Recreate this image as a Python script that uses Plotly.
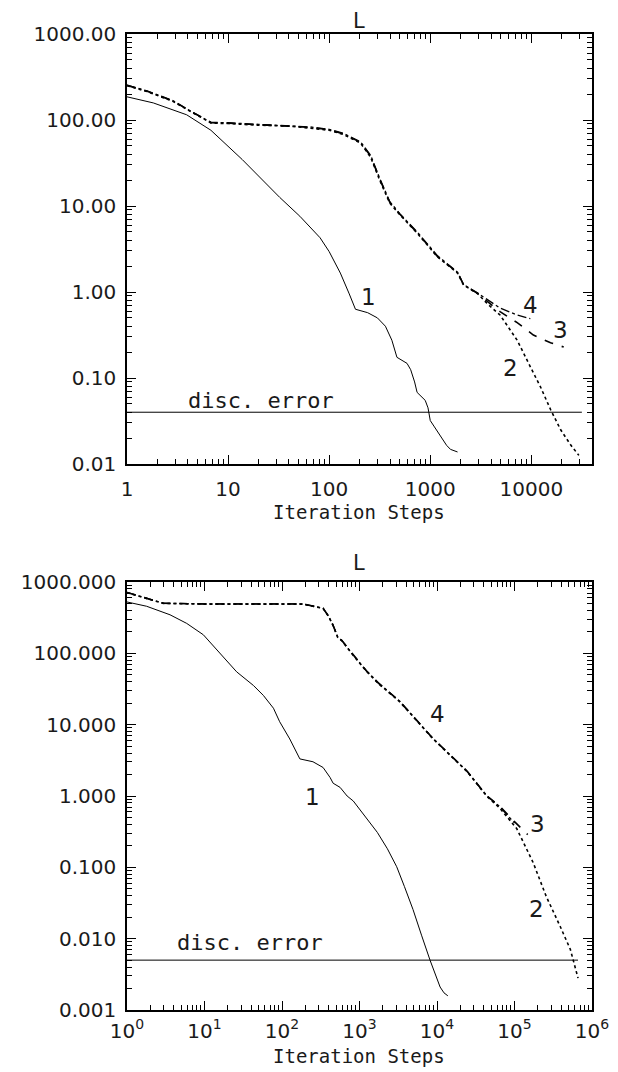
import math
import plotly.graph_objects as go

# ---------------- data: top panel ----------------
top_c1_x = [1, 1.82, 3.89, 6.76, 13.8, 32.4, 51.3, 64.6, 81.3, 100, 129, 158, 182, 240, 300, 360, 417, 468,
            530, 589, 640, 700, 741, 820, 891, 950, 1000, 1100, 1202, 1318, 1450, 1585, 1862]
top_c1_y = [186, 158, 115, 76, 34.7, 12.6, 7.6, 5.75, 4.27, 2.95, 1.66, 0.95, 0.63, 0.575, 0.50, 0.40, 0.275, 0.174,
            0.160, 0.148, 0.125, 0.090, 0.068, 0.060, 0.055, 0.045, 0.032, 0.027, 0.023, 0.0195, 0.0165, 0.0148, 0.0138]

top_c2_x = [1, 1.58, 2.8, 4.5, 6.8, 10, 20, 41, 65, 100, 138, 204, 257, 316, 398, 427, 501, 741, 1175, 1862, 2138, 2951,
            3631, 4900, 7244, 9772, 12303, 15488, 19498, 24547, 29512]
top_c2_y = [251, 214, 166, 120, 92, 91, 87, 85, 81, 76, 68, 54, 37, 20, 10.8, 9.8, 7.9, 4.85, 2.57, 1.66, 1.20, 0.955,
            0.74, 0.54, 0.275, 0.135, 0.079, 0.043, 0.025, 0.0166, 0.0126]

top_c3_x = [1, 1.58, 2.8, 4.5, 6.8, 10, 20, 41, 65, 100, 138, 204, 257, 316, 398, 427, 501, 741, 1175, 1862, 2138, 2951,
            4900, 7244, 10471, 15488, 20893]
top_c3_y = [253, 216, 168, 121, 93, 92, 88, 85, 82, 77, 69, 55, 38, 20.5, 11.0, 10.0, 8.0, 4.9, 2.6, 1.68, 1.21, 0.96,
            0.59, 0.44, 0.316, 0.257, 0.229]

top_c4_x = [1, 1.58, 2.8, 4.5, 6.8, 10, 20, 41, 65, 100, 138, 204, 257, 316, 398, 427, 501, 741, 1175, 1862, 2138, 2951,
            4900, 7244, 9772]
top_c4_y = [255, 218, 170, 122, 94, 93, 89, 86, 83, 78, 70, 56, 39, 21, 11.2, 10.2, 8.1, 5.0, 2.65, 1.70, 1.22, 0.97,
            0.65, 0.54, 0.49]

top_err_x = [1, 31600]
top_err_y = [0.04, 0.04]

top_xticks = [1, 10, 100, 1000, 10000]
top_xtext = ["1", "10", "100", "1000", "10000"]
top_yticks = [0.01, 0.1, 1, 10, 100, 1000]
top_ytext = ["0.01", "0.10", "1.00", "10.00", "100.00", "1000.00"]

# ---------------- data: bottom panel ----------------
bot_c1_x = [1, 1.79, 3.59, 5.89, 9.66, 15.8, 26.0, 42.7, 57.5, 77.6, 93.3, 126, 170, 251, 339, 417, 457, 562, 692,
            832, 1000, 1288, 1698, 2291, 3020, 3802, 4898, 6310, 8128, 10965, 12303, 13804]
bot_c1_y = [525, 457, 347, 263, 182, 100, 55, 35.5, 25.7, 17.0, 11.0, 6.3, 3.31, 3.02, 2.51, 1.82, 1.51, 1.32, 1.0,
            0.85, 0.66, 0.457, 0.309, 0.182, 0.102, 0.0537, 0.0257, 0.0112, 0.0050, 0.0021, 0.00174, 0.00158]

bot_c2_x = [1, 2.95, 10, 31.6, 100, 186, 339, 398, 457, 525, 589, 832, 1230, 1738, 3311, 8913, 24547, 43652,
            64565, 107152, 173780, 257040, 389045, 524807, 660693]
bot_c2_y = [708, 501, 490, 490, 490, 490, 427, 331, 245, 166, 151, 93, 56, 38, 20.9, 6.3, 2.19, 1.0,
            0.676, 0.347, 0.117, 0.039, 0.0148, 0.0071, 0.0028]

bot_c3_x = [1, 2.95, 10, 31.6, 100, 186, 339, 398, 457, 525, 589, 832, 1230, 1738, 3311, 8913, 24547, 43652,
            64565, 100000, 147911]
bot_c3_y = [712, 503, 492, 492, 492, 492, 428, 332, 246, 167, 152, 94, 56.5, 38.5, 21.1, 6.35, 2.21, 1.01,
            0.72, 0.437, 0.288]

bot_c4_x = [1, 2.95, 10, 31.6, 100, 186, 339, 398, 457, 525, 589, 832, 1230, 1738, 3311, 8913, 24547, 43652,
            64565, 100000]
bot_c4_y = [716, 505, 494, 494, 494, 494, 429, 333, 247, 168, 153, 94.5, 57, 39, 21.3, 6.4, 2.23, 1.02,
            0.71, 0.417]

bot_err_x = [1, 660000]
bot_err_y = [0.005, 0.005]

bot_xticks = [1, 10, 100, 1000, 10000, 100000, 1000000]
bot_xtext = ["10<sup>0</sup>", "10<sup>1</sup>", "10<sup>2</sup>", "10<sup>3</sup>",
             "10<sup>4</sup>", "10<sup>5</sup>", "10<sup>6</sup>"]
bot_yticks = [0.001, 0.01, 0.1, 1, 10, 100, 1000]
bot_ytext = ["0.001", "0.010", "0.100", "1.000", "10.000", "100.000", "1000.000"]

# curve labels (x, y, text)
top_lab_x = [245, 9800, 19500, 6200, 21]
top_lab_y = [0.87, 0.71, 0.36, 0.13, 0.055]
top_lab_t = ["1", "4", "3", "2", "disc. error"]
bot_lab_x = [251, 10200, 200000, 195000, 39]
bot_lab_y = [0.98, 14, 0.41, 0.026, 0.0087]
bot_lab_t = ["1", "4", "3", "2", "disc. error"]

# ---------------- figure ----------------
FONT = "DejaVu Sans"
WIDEFONT = "DejaVu Sans Mono"
INK = "#1a1a1a"

OFF = 8             # page body margin of the html page
W, H = 618 - OFF, 1072 - OFF


def fx(px):
    return (px - OFF) / W


def fy(py):
    return 1 - (py - OFF) / H


def minor_vals(lo, hi):
    vals = []
    for e in range(lo, hi):
        for m in range(2, 10):
            vals.append(m * 10.0 ** e)
    return vals


fig = go.Figure()

styles = [dict(dash="solid", width=1), dict(dash="dot", width=1.6),
          dict(dash="dash", width=1.6), dict(dash="dashdot", width=1.3)]

for xs, ys, st in [(top_c1_x, top_c1_y, styles[0]), (top_c2_x, top_c2_y, styles[1]),
                   (top_c3_x, top_c3_y, styles[2]), (top_c4_x, top_c4_y, styles[3]),
                   (top_err_x, top_err_y, styles[0])]:
    fig.add_trace(go.Scatter(x=xs, y=ys, mode="lines", xaxis="x", yaxis="y",
                             line=dict(color="black", **st), showlegend=False))

for xs, ys, st in [(bot_c1_x, bot_c1_y, styles[0]), (bot_c2_x, bot_c2_y, styles[1]),
                   (bot_c3_x, bot_c3_y, styles[2]), (bot_c4_x, bot_c4_y, styles[3]),
                   (bot_err_x, bot_err_y, styles[0])]:
    fig.add_trace(go.Scatter(x=xs, y=ys, mode="lines", xaxis="x2", yaxis="y2",
                             line=dict(color="black", **st), showlegend=False))

xdom = [fx(127), fx(592)]
top_ydom = [fy(464), fy(34)]
bot_ydom = [fy(1010), fy(582)]

axis_common = dict(type="log", showgrid=False, zeroline=False, showline=True,
                   automargin=False,
                   linecolor="black", linewidth=1.5, mirror="allticks",
                   ticks="inside", ticklen=9, tickwidth=1, tickcolor="black",
                   tickfont=dict(family=FONT, size=20, color=INK))

fig.update_layout(
    template="none",
    width=W, height=H, margin=dict(l=0, r=0, t=0, b=0, autoexpand=False),
    paper_bgcolor="white", plot_bgcolor="white", showlegend=False,
    xaxis=dict(axis_common, domain=xdom, anchor="y", range=[0, 4.6],
               tickvals=top_xticks, ticktext=top_xtext, ticklabelstandoff=6,
               minor=dict(tickvals=minor_vals(0, 5), ticks="inside", ticklen=5,
                          tickcolor="black", showgrid=False)),
    yaxis=dict(axis_common, domain=top_ydom, anchor="x", range=[-2, 3],
               tickvals=top_yticks, ticktext=top_ytext, ticklabelstandoff=5,
               minor=dict(tickvals=minor_vals(-2, 3), ticks="inside", ticklen=5,
                          tickcolor="black", showgrid=False)),
    xaxis2=dict(axis_common, domain=xdom, anchor="y2", range=[0, 6],
                tickvals=bot_xticks, ticktext=bot_xtext, ticklabelstandoff=2,
                tickfont=dict(family=FONT, size=20, color=INK),
                minor=dict(tickvals=minor_vals(0, 6), ticks="inside", ticklen=5,
                           tickcolor="black", showgrid=False)),
    yaxis2=dict(axis_common, domain=bot_ydom, anchor="x2", range=[-3, 3],
                tickvals=bot_yticks, ticktext=bot_ytext, ticklabelstandoff=5,
                minor=dict(tickvals=minor_vals(-3, 3), ticks="inside", ticklen=5,
                           tickcolor="black", showgrid=False)),
)

anns = []
cx = (xdom[0] + xdom[1]) / 2
for ypix, txt in [(21, "L"), (563, "L"), (512, "Iteration Steps"), (1056, "Iteration Steps")]:
    anns.append(dict(x=cx, y=fy(ypix), xref="paper", yref="paper", text=txt,
                     showarrow=False, xanchor="center", yanchor="middle",
                     font=dict(family=WIDEFONT if txt != "L" else FONT,
                               size=19 if txt != "L" else 21, color=INK)))

for xs, ys, ts, xr, yr in [(top_lab_x, top_lab_y, top_lab_t, "x", "y"),
                           (bot_lab_x, bot_lab_y, bot_lab_t, "x2", "y2")]:
    for xv, yv, t in zip(xs, ys, ts):
        anns.append(dict(x=math.log10(xv), y=math.log10(yv),
                         xref=xr, yref=yr, text=t, showarrow=False,
                         xanchor="center", yanchor="middle",
                         font=dict(family=FONT if len(t) == 1 else WIDEFONT,
                                   size=23 if len(t) == 1 else 22, color=INK)))

fig.update_layout(annotations=anns)
fig.write_html("out.html")
